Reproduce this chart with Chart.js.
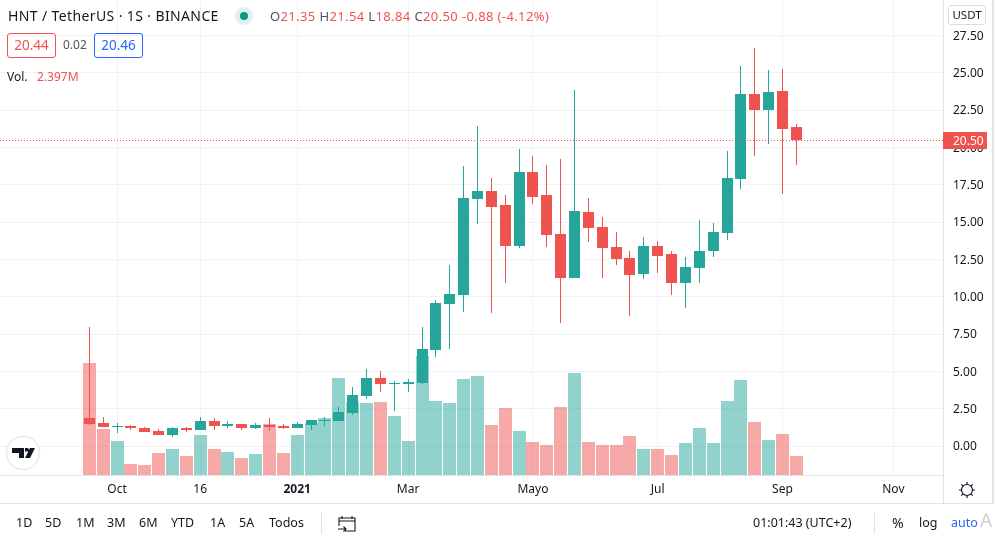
<!DOCTYPE html>
<html>
<head>
<meta charset="utf-8">
<title>HNT / TetherUS</title>
<script src="https://cdn.jsdelivr.net/npm/chart.js@4"></script>
<style>
  html, body { margin: 0; padding: 0; background: #fff; overflow: hidden; }
  body { width: 994px; height: 538px; position: relative; font-family: "Noto Sans", sans-serif; color: #131722; }
  canvas { position: absolute; left: 0; top: 0; }
  .t { position: absolute; white-space: nowrap; font-size: 12px; line-height: 16px; }
  .red { color: #ef5350; }
  .gray { color: #50535e; }
  .tool { top: 515px; font-size: 12.5px; }
  .box { border: 1px solid; border-radius: 3px; height: 23px; line-height: 23px; text-align: center; font-size: 13.5px; }
  .sep { position: absolute; width: 1px; height: 22px; top: 512px; background: #e0e3eb; }
  svg { position: absolute; }
</style>
</head>
<body>
<canvas id="chart" width="994" height="538"></canvas>

<div class="t" style="left:8px;top:7px;font-size:14px;line-height:18px;letter-spacing:.38px">HNT / TetherUS · 1S · BINANCE</div>
<svg style="left:235px;top:7px" width="18" height="18"><circle cx="9" cy="9" r="9" fill="#dff1ee"/><circle cx="9" cy="9" r="4" fill="#089981"/></svg>
<div class="t red" style="left:270px;top:8px;font-size:13px;letter-spacing:.38px"><span class="gray">O</span>21.35 <span class="gray">H</span>21.54 <span class="gray">L</span>18.84 <span class="gray">C</span>20.50 -0.88 (-4.12%)</div>
<div class="t box red" style="left:7px;top:33px;width:47px;border-color:#ef5350">20.44</div>
<div class="t gray" style="left:63px;top:37px;font-size:12px">0.02</div>
<div class="t box" style="left:94px;top:33px;width:47px;border-color:#2962ff;color:#2962ff">20.46</div>
<div class="t" style="left:7px;top:69px;color:#131722">Vol.</div>
<div class="t red" style="left:37px;top:69px">2.397M</div>
<div class="t" style="left:948px;top:5px;width:36px;height:18px;line-height:18px;border:1px solid #d9dce6;border-radius:3px;text-align:center;font-size:11.5px">USDT</div>

<svg style="left:5px;top:435px" width="36" height="36"><circle cx="18" cy="18" r="16.5" fill="#fff" stroke="#e9eaee" stroke-width="1.5"/><path d="M7 13h12v10h-5v-5H7zM20 13h2.2a1.8 1.8 0 1 1 0 3.6H20zM25 13h5l-5 10h-5z" fill="#131722"/></svg>
<svg style="left:957px;top:480px" width="20" height="20" fill="none" stroke="#131722" stroke-width="1.2"><circle cx="10" cy="10" r="5.5"/><path d="M10 2v2.500M10 15.500V18M2 10h2.500M15.500 10H18M4.300 4.300l1.800 1.800M13.900 13.900l1.800 1.800M15.700 4.300l-1.800 1.800M6.100 13.900l-1.800 1.800"/></svg>
<svg style="left:337px;top:514px" width="20" height="20" fill="none" stroke="#131722" stroke-width="1.1"><path d="M2 7h16M5 2v3M15 2v3M2 12V4h16v13H8M1 15h8M6.500 12.500L9 15l-2.500 2.500"/></svg>

<div class="t tool" style="left:16px">1D</div>
<div class="t tool" style="left:45px">5D</div>
<div class="t tool" style="left:76px">1M</div>
<div class="t tool" style="left:107px">3M</div>
<div class="t tool" style="left:139px">6M</div>
<div class="t tool" style="left:171px">YTD</div>
<div class="t tool" style="left:210px">1A</div>
<div class="t tool" style="left:239px">5A</div>
<div class="t tool" style="left:269px">Todos</div>
<div class="sep" style="left:321px"></div>
<div class="t tool" style="left:753px">01:01:43 (UTC+2)</div>
<div class="sep" style="left:874px"></div>
<div class="t tool" style="left:892px;font-size:14px">%</div>
<div class="t tool" style="left:919px">log</div>
<div class="t tool" style="left:951px;color:#2962ff">auto</div>
<div class="t" style="left:980px;top:508px;font-size:19px;line-height:24px;color:#d0d0d0">A</div>

<script>
// prices, one entry per bar (oldest first)
const opens = [1.87, 1.54, 1.27, 1.34, 1.20, 1.00, 0.74, 1.20, 1.07, 1.67, 1.34, 1.47, 1.20, 1.40, 1.34, 1.20, 1.40, 1.67, 1.67, 2.20, 3.34, 4.55, 4.14, 4.14, 4.20, 6.42, 9.49, 10.09, 16.51, 17.05, 16.11, 13.37, 18.38, 16.78, 14.17, 11.23, 15.64, 14.64, 13.30, 12.57, 11.50, 13.37, 12.83, 10.90, 11.90, 13.03, 14.24, 17.91, 23.60, 22.53, 23.80, 21.35];
const highs = [7.95, 1.94, 1.54, 1.38, 1.27, 1.14, 1.27, 1.27, 1.94, 1.87, 1.67, 1.47, 1.54, 1.87, 1.47, 1.60, 1.74, 1.94, 2.60, 3.94, 5.15, 5.01, 4.34, 4.48, 7.95, 9.76, 12.10, 18.78, 21.46, 17.98, 16.78, 19.92, 19.45, 18.85, 19.25, 23.86, 16.64, 15.31, 14.30, 13.03, 13.97, 13.70, 13.03, 12.63, 15.11, 14.91, 19.79, 25.47, 26.67, 25.20, 25.27, 21.54];
const lows = [1.40, 1.27, 0.87, 1.07, 0.94, 0.74, 0.60, 0.94, 1.07, 1.07, 1.20, 1.07, 1.14, 1.00, 1.14, 1.20, 1.07, 1.34, 1.67, 2.07, 3.14, 3.61, 2.34, 3.61, 4.14, 5.95, 6.48, 8.96, 14.90, 8.89, 10.90, 13.24, 16.18, 13.30, 8.22, 11.23, 13.64, 11.23, 12.10, 8.69, 11.16, 11.56, 10.09, 9.22, 10.90, 12.63, 13.77, 17.18, 19.39, 20.25, 16.91, 18.84];
const closes = [1.47, 1.27, 1.34, 1.20, 0.94, 0.74, 1.20, 1.07, 1.67, 1.34, 1.47, 1.20, 1.40, 1.27, 1.20, 1.47, 1.74, 1.74, 2.27, 3.41, 4.55, 4.14, 4.21, 4.28, 6.48, 9.56, 10.16, 16.58, 17.05, 16.04, 13.37, 18.38, 16.71, 14.10, 11.23, 15.71, 14.57, 13.24, 12.50, 11.43, 13.37, 12.70, 10.90, 11.97, 13.03, 14.30, 17.98, 23.60, 22.53, 23.73, 21.26, 20.50];
// volume in millions
const volumes = [14.1, 5.8, 4.3, 1.4, 1.26, 2.77, 3.28, 2.4, 5.04, 3.28, 2.9, 2.14, 2.65, 6.43, 2.77, 5.04, 6.56, 7.19, 12.2, 9.2, 9.08, 9.2, 7.44, 4.29, 15.0, 9.33, 9.08, 12.1, 12.5, 6.3, 8.45, 5.55, 4.16, 3.78, 8.58, 12.86, 4.16, 3.78, 3.78, 4.92, 3.28, 3.28, 2.52, 4.04, 5.93, 4.04, 9.33, 11.98, 6.68, 4.41, 5.17, 2.397];
// candle is drawn from open/close, volume colour can differ from the candle
const volumeUp = [0, 0, 1, 0, 0, 0, 1, 0, 1, 0, 1, 0, 1, 0, 0, 1, 1, 1, 1, 1, 1, 0, 1, 1, 1, 1, 1, 1, 1, 0, 0, 1, 0, 0, 0, 1, 0, 0, 0, 0, 1, 0, 0, 1, 1, 1, 1, 1, 0, 1, 0, 0];

const priceTicks = [0, 2.5, 5, 7.5, 10, 12.5, 15, 17.5, 20, 22.5, 25, 27.5];
const timeTicks = [2, 8, 15, 23, 32, 41, 50, 58];
const timeLabels = ['Oct', '16', '2021', 'Mar', 'Mayo', 'Jul', 'Sep', 'Nov'];
const lastPrice = 20.5;

const green = '#26a69a';
const red = '#ef5350';
const lineColor = '#e0e3eb';
const gridColor = '#f0f3fa';

const isUp = closes.map((c, i) => c >= opens[i]);
const candleColors = isUp.map(up => up ? green : red);
const volumeColors = volumeUp.map(up => up ? 'rgba(38,166,154,0.5)' : 'rgba(239,83,80,0.5)');

// snap bars to whole pixels, like the original canvas does
const snapBars = {
  id: 'snapBars',
  afterDatasetsUpdate(chart) {
    chart.data.datasets.forEach((ds, i) => {
      chart.getDatasetMeta(i).data.forEach(el => {
        el.x = Math.floor(el.x) + 0.5;
        el.y = Math.round(el.y);
        el.base = Math.round(el.base);
        if (el.y === el.base) el.base = el.y + 1;
      });
    });
  }
};

// price line, price tag and the panel separators
const frame = {
  id: 'frame',
  afterDraw(chart) {
    const c = chart.ctx;
    const area = chart.chartArea;
    const y = Math.round(chart.scales.y.getPixelForValue(lastPrice)) + 0.5;
    c.save();
    c.strokeStyle = red;
    c.lineWidth = 1;
    c.setLineDash([1, 2]);
    c.beginPath();
    c.moveTo(0, y);
    c.lineTo(area.right, y);
    c.stroke();
    c.setLineDash([]);
    c.fillStyle = red;
    c.fillRect(area.right, y - 8.5, 44, 17);
    c.fillStyle = '#fff';
    c.font = '12px "Noto Sans"';
    c.textBaseline = 'middle';
    c.fillText(lastPrice.toFixed(2), area.right + 10, y + 1);
    c.fillStyle = lineColor;
    c.fillRect(area.right, area.bottom, 1, 28);
    c.fillRect(0, 503, 994, 1);
    c.fillRect(992, 0, 2, 504);
    c.restore();
  }
};

new Chart(document.getElementById('chart').getContext('2d'), {
  type: 'bar',
  data: {
    datasets: [
      {
        label: 'Body',
        data: opens.map((o, i) => ({ x: i, y: [o, closes[i]] })),
        backgroundColor: candleColors,
        barThickness: 11,
        yAxisID: 'y',
        order: 1
      },
      {
        label: 'Wick',
        data: lows.map((l, i) => ({ x: i, y: [l, highs[i]] })),
        backgroundColor: candleColors,
        barThickness: 1,
        yAxisID: 'y',
        order: 2
      },
      {
        label: 'Vol',
        data: volumes.map((v, i) => ({ x: i, y: v })),
        backgroundColor: volumeColors,
        barThickness: 13,
        yAxisID: 'vol',
        order: 3
      }
    ]
  },
  options: {
    responsive: false,
    animation: false,
    events: [],
    layout: { padding: { bottom: 35 } },
    datasets: { bar: { grouped: false, inflateAmount: 0, borderWidth: 0 } },
    plugins: { legend: { display: false }, tooltip: { enabled: false } },
    scales: {
      x: {
        type: 'linear',
        min: -6.44,
        max: 61.58,
        offset: false,
        grid: { offset: false, color: gridColor, drawTicks: false },
        border: { color: lineColor },
        afterBuildTicks: scale => { scale.ticks = timeTicks.map(v => ({ value: v })); },
        afterFit: scale => { scale.height = 28; scale.paddingLeft = 0; scale.paddingRight = 0; },
        ticks: {
          autoSkip: false,
          maxRotation: 0,
          padding: 7,
          color: '#131722',
          font: ctx => ({ family: '"Noto Sans"', size: 12, weight: ctx.tick && ctx.tick.label === '2021' ? 'bold' : 'normal' }),
          callback: v => timeLabels[timeTicks.indexOf(v)]
        }
      },
      y: {
        position: 'right',
        min: -1.94,
        max: 29.87,
        grid: { color: gridColor, drawTicks: false },
        border: { color: lineColor },
        afterBuildTicks: scale => { scale.ticks = priceTicks.map(v => ({ value: v })); },
        afterFit: scale => { scale.width = 51; scale.paddingTop = 0; scale.paddingBottom = 0; },
        ticks: {
          padding: 10,
          labelOffset: 1,
          color: '#131722',
          font: { family: '"Noto Sans"', size: 12 },
          callback: v => v.toFixed(2)
        }
      },
      vol: {
        display: false,
        min: 0,
        max: 59.9
      }
    }
  },
  plugins: [snapBars, frame]
});
</script>
</body>
</html>
